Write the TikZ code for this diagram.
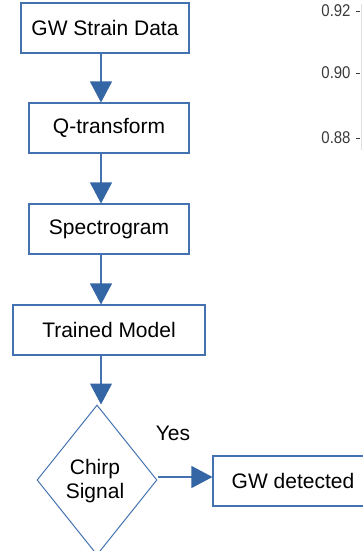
\documentclass[tikz,border=0pt]{standalone}
\usepackage{fontspec}
\setmainfont{Liberation Sans}
\usetikzlibrary{arrows.meta,shapes.geometric}
\definecolor{flowline}{HTML}{4472B0}
\definecolor{flowhead}{HTML}{3465A4}
\definecolor{axisgray}{HTML}{3A3A3A}
\tikzset{
  x=1pt, y=-1pt,
  box/.style={draw=flowline, line width=1.1pt, fill=white, inner sep=0pt,
    font=\fontsize{21}{25}\selectfont, text=black},
  decision/.style={draw=flowline, line width=1pt, shape=diamond, inner sep=0pt,
    minimum width=120pt, minimum height=150pt},
  flow/.style={draw=flowline, line width=1.1pt,
    -{Triangle[width=22pt,length=21pt,fill=flowhead,color=flowhead]}},
  lbl/.style={font=\fontsize{21}{24}\selectfont, text=black, inner sep=0pt},
  ticklbl/.style={font=\fontsize{17}{19}\selectfont, text=axisgray, inner sep=0pt, xscale=0.88},
}
\begin{document}
\begin{tikzpicture}
\useasboundingbox (0,0) rectangle (363,551);
\clip (0,0) rectangle (363,551);

% partial axis of a neighbouring plot
\draw[gray!25, line width=0.6pt] (361,4) -- (361,150);
\node[ticklbl] (t1) at (336,11) {0.92};
\node[ticklbl] (t2) at (336,73) {0.90};
\node[ticklbl] (t3) at (336,138) {0.88};
\foreach \yy in {11,73,138} \draw[axisgray, line width=0.6pt] (356,\yy) -- (360,\yy);

% flow chart boxes
\node[box, minimum width=168pt, minimum height=50pt] (b1) at (105,28) {GW Strain Data};
\node[box, minimum width=160pt, minimum height=50pt] (b2) at (109,128) {Q-transform};
\node[box, minimum width=160pt, minimum height=50pt] (b3) at (109,229) {Spectrogram};
\node[box, minimum width=192pt, minimum height=50pt] (b4) at (109,330) {Trained Model};
\node[decision] (d) at (97,480) {};
\node[lbl, align=center, font=\fontsize{21}{23.5}\selectfont] (dt) at (95,481) {Chirp\\Signal};
\node[box, minimum width=160pt, minimum height=50pt] (b5) at (293,481) {GW detected};
\node[lbl] (yes) at (173,433) {Yes};

% vertical axis of the flow
\coordinate (ax) at (101,0);

\draw[flow] (b1.south -| ax) -- (b2.north -| ax);
\draw[flow] (b2.south -| ax) -- (b3.north -| ax);
\draw[flow] (b3.south -| ax) -- (b4.north -| ax);
\draw[flow] (b4.south -| ax) -- (d.north -| ax);
\draw[flow] (d.east) ++(0,-3) coordinate (de) (de) -- (de -| b5.west);
\end{tikzpicture}
\end{document}
